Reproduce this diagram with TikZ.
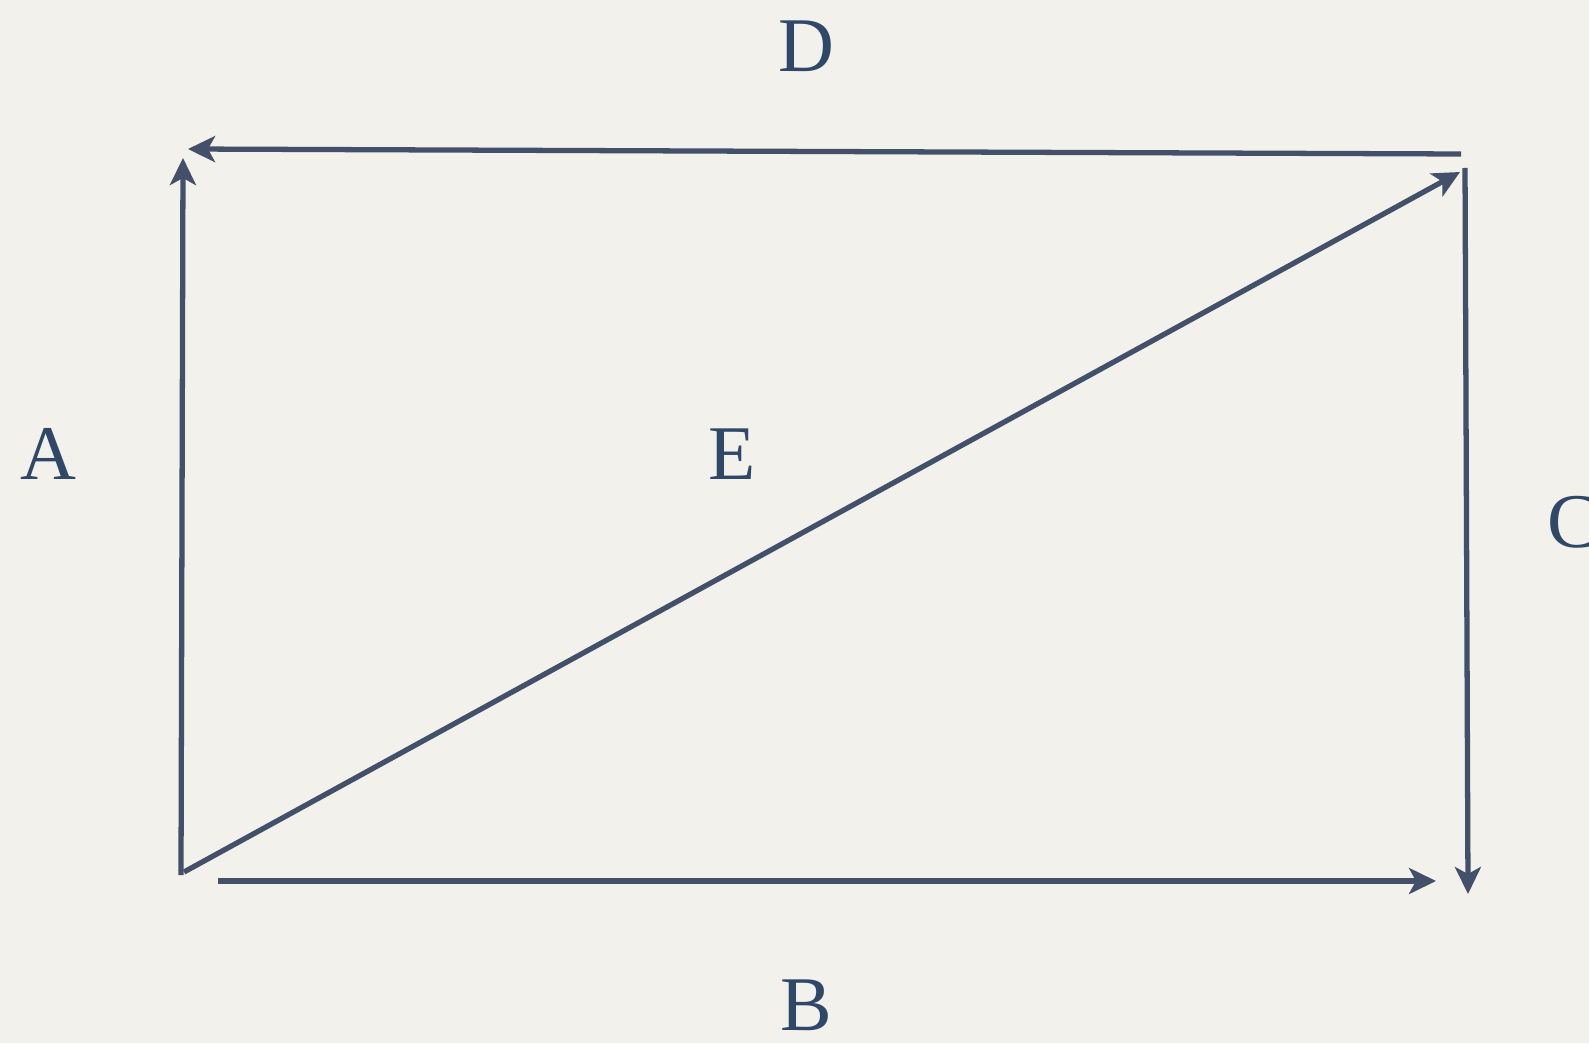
\documentclass[tikz,border=0pt]{standalone}
\usepackage{xcolor}
\usepackage{fontspec}
\setmainfont{Liberation Serif}
\usepackage{tikz}
\usetikzlibrary{arrows.meta, positioning, calc}

\definecolor{paper}{HTML}{F3F1EC}
\definecolor{ink}{HTML}{435069}
\definecolor{inktext}{HTML}{2F4868}

\begin{document}
\begin{tikzpicture}[
          x=0.01cm, y=-0.01cm,
          lbl/.style={text=inktext, font=\fontsize{22}{26}\selectfont, inner sep=0pt},
          arrow/.style={-{Stealth[length=0.27cm, width=0.26cm, inset=0.07cm]}, line width=1.5pt, draw=ink}
        ]
          % Paper
          \fill[paper] (0,0) rectangle (1589,1043);
          \useasboundingbox (0,0) rectangle (1589,1043);

          % Corners
          \coordinate (a0) at (181,875);
          \coordinate (a1) at (183,158);
          \coordinate (b0) at (218,881);
          \coordinate (b1) at (1436,881);
          \coordinate (c0) at (1465,168);
          \coordinate (c1) at (1468,894);
          \coordinate (d0) at (1461,154);
          \coordinate (d1) at (188,149);
          \coordinate (e0) at (184,872);
          \coordinate (e1) at (1460,172);

          % Labels
          \node[lbl] (A) at (48,454) {A};
          \node[lbl] (B) at (806,1005) {B};
          \node[lbl] (C) at (1573,522) {C};
          \node[lbl] (D) at (806,46) {D};
          \node[lbl] (E) at (732,454) {E};

          % Vectors
          \draw[arrow] (a0) -- (a1);
          \draw[arrow] (b0) -- (b1);
          \draw[arrow] (c0) -- (c1);
          \draw[arrow] (d0) -- (d1);
          \draw[arrow] (e0) -- (e1);
        \end{tikzpicture}
\end{document}
